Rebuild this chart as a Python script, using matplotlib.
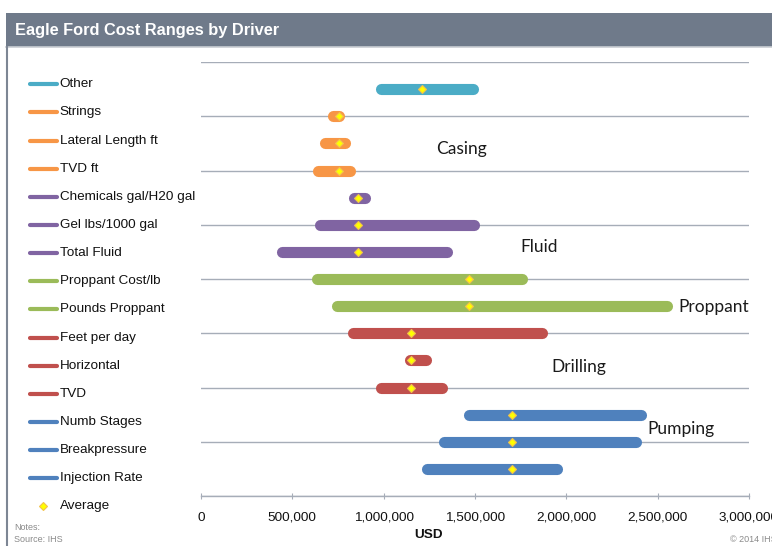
import matplotlib
matplotlib.use("Agg")
import matplotlib.pyplot as plt
from matplotlib.lines import Line2D
from matplotlib.patches import Rectangle
from matplotlib.ticker import FuncFormatter, MultipleLocator

# ---------------- data ----------------
drivers = ["Other", "Strings", "Lateral Length ft", "TVD ft",
           "Chemicals gal/H20 gal", "Gel lbs/1000 gal", "Total Fluid",
           "Proppant Cost/lb", "Pounds Proppant",
           "Feet per day", "Horizontal", "TVD",
           "Numb Stages", "Breakpressure", "Injection Rate"]
low = [988000, 722000, 678000, 642000,
       835000, 652000, 441000,
       636000, 742000,
       831000, 1143000, 983000,
       1468000, 1329000, 1238000]
high = [1490000, 758000, 790000, 813000,
        899000, 1496000, 1348000,
        1756000, 2550000,
        1866000, 1231000, 1318000,
        2410000, 2379000, 1950000]
average = [1210000, 757000, 757000, 757000,
           861000, 861000, 861000,
           1467000, 1467000,
           1150000, 1150000, 1150000,
           1703000, 1703000, 1703000]
groups = ["Other", "Casing", "Casing", "Casing",
          "Fluid", "Fluid", "Fluid",
          "Proppant", "Proppant",
          "Drilling", "Drilling", "Drilling",
          "Pumping", "Pumping", "Pumping"]
group_colors = {"Other": "#4bacc6", "Casing": "#f79646", "Fluid": "#8064a2",
                "Proppant": "#9bbb59", "Drilling": "#c0504d", "Pumping": "#4f81bd"}
group_labels = ["Casing", "Fluid", "Proppant", "Drilling", "Pumping"]
group_label_x = [1287000, 1746000, 2613000, 1916000, 2443000]
group_label_y = [12.78, 9.17, 6.96, 4.77, 2.46]
x_ticks = [0, 500000, 1000000, 1500000, 2000000, 2500000, 3000000]

# ---------------- figure ----------------
W, H = 772, 546
fig = plt.figure(figsize=(W / 100, H / 100), dpi=100)
fig.patch.set_facecolor("white")

def fx(px):
    return px / W

def fy(py):
    return 1 - py / H

# title bar
fig.add_artist(Rectangle((fx(6), fy(46.7)), 1 - fx(6), fy(12.7) - fy(46.7),
                         transform=fig.transFigure, facecolor="#6f7a8a",
                         edgecolor="none", zorder=0))
fig.add_artist(Line2D([fx(6), 1], [fy(47.3), fy(47.3)], transform=fig.transFigure,
                      color="#c9cdd3", lw=1.2))
fig.add_artist(Line2D([fx(6.8), fx(6.8)], [fy(47), 0], transform=fig.transFigure,
                      color="#7d8694", lw=1.5))
fig.text(fx(15), fy(31), "Eagle Ford Cost Ranges by Driver", color="white",
         fontsize=11.8, fontweight="bold", family="Liberation Sans",
         va="center", ha="left")

ax = fig.add_axes([fx(201), fy(496), fx(749) - fx(201), fy(62) - fy(496)])
ax.set_xlim(0, 3000000)
ax.set_ylim(0, 16)
for s in ["left", "right", "top"]:
    ax.spines[s].set_visible(False)
ax.spines["bottom"].set_color("#a6adb8")
ax.spines["bottom"].set_linewidth(1.0)
ax.yaxis.set_major_locator(MultipleLocator(2))
ax.set_yticklabels([])
ax.tick_params(axis="y", length=0)
ax.grid(axis="y", color="#a6adb8", lw=1.0)
ax.set_axisbelow(True)
ax.set_xticks(x_ticks)
ax.xaxis.set_major_formatter(FuncFormatter(lambda v, p: f"{int(v):,}"))
ax.tick_params(axis="x", direction="inout", length=4, color="#a6adb8",
               labelsize=9.7, pad=9.5, labelcolor="#111111")
for lab in ax.get_xticklabels():
    lab.set_family("Liberation Sans")

n = len(drivers)
ypos = [n - i for i in range(n)]
for i in range(n):
    c = group_colors[groups[i]]
    ax.plot([low[i], high[i]], [ypos[i], ypos[i]], color=c, lw=8,
            solid_capstyle="round", zorder=3)
ax.plot(average, ypos, linestyle="none", marker="D", markersize=4.5,
        markerfacecolor="#ffff00", markeredgecolor="#f2c14e",
        markeredgewidth=0.8, zorder=4)

for lab, x, y in zip(group_labels, group_label_x, group_label_y):
    ax.text(x, y, lab, fontsize=12.5, family="Lato", color="#1a1a1a",
            va="center", ha="left")

# legend (figure pixel layout)
leg_top, leg_step = 84.3, 28.14
for i in range(n):
    c = group_colors[groups[i]]
    yy = fy(leg_top + i * leg_step)
    fig.add_artist(Line2D([fx(30), fx(57)], [yy, yy], transform=fig.transFigure,
                          color=c, lw=3, solid_capstyle="round"))
    fig.text(fx(59.5), yy, drivers[i], fontsize=9.7,
             family="Liberation Sans", va="center", ha="left", color="#111111")
fig.add_artist(Line2D([fx(43)], [fy(506)], transform=fig.transFigure, marker="D",
                      markersize=4.5, markerfacecolor="#ffff00",
                      markeredgecolor="#f2c14e", markeredgewidth=0.8,
                      linestyle="none"))
fig.text(fx(59.5), fy(506), "Average", fontsize=9.7,
         family="Liberation Sans", va="center", ha="left", color="#111111")

fig.text(fx(429), fy(535), "USD", fontsize=9.7, fontweight="bold",
         family="Liberation Sans", ha="center", va="center", color="#111111")
fig.text(fx(14), fy(527), "Notes:", fontsize=6.5, family="Liberation Sans",
         color="#8a8a8a", va="center", ha="left")
fig.text(fx(14), fy(539), "Source: IHS", fontsize=6.5, family="Liberation Sans",
         color="#8a8a8a", va="center", ha="left")
fig.text(fx(730), fy(540), "\u00a9 2014 IHS", fontsize=6.5, family="Liberation Sans",
         color="#8a8a8a", va="center", ha="left")

fig.savefig("out.png", dpi=100)
